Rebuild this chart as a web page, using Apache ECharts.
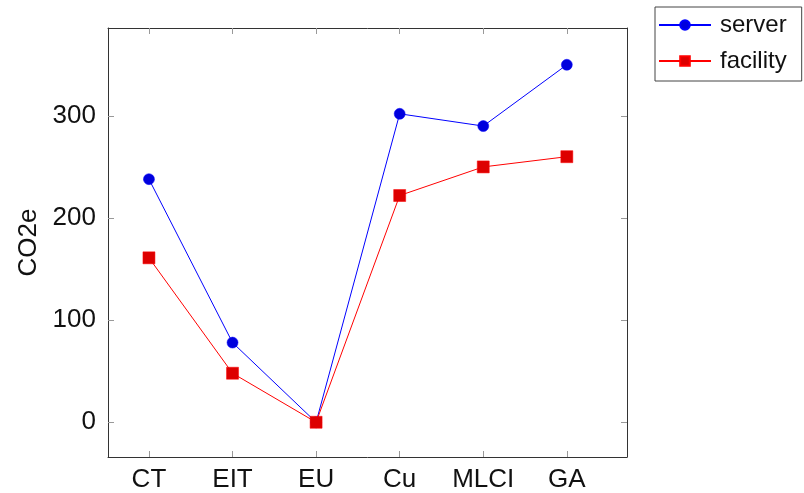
<!DOCTYPE html>
<html>
<head>
<meta charset="utf-8">
<script src="https://cdn.jsdelivr.net/npm/echarts@6/dist/echarts.min.js"></script>
<style>
  html, body { margin: 0; padding: 0; background: #fff; }
  #chart { width: 804px; height: 493px; }
</style>
</head>
<body>
<div id="chart"></div>
<script>
var categories = ["CT", "EIT", "EU", "Cu", "MLCI", "GA"];
var serverValues = [238, 78, 0, 302, 290, 350];
var facilityValues = [161, 48, 0, 222, 250, 260];
var yTicks = [0, 100, 200, 300];

var font = "Liberation Sans";
var myChart = echarts.init(document.getElementById("chart"));

function pairs(vals) {
  return vals.map(function (v, i) { return [i, v]; });
}
var xTickVals = categories.map(function (c, i) { return i; });

// axis pieces shared by the mirrored frame axes
var frameLine = { show: true, onZero: false, lineStyle: { color: "#333", width: 1 } };
var xTick = { show: true, inside: true, length: 6, customValues: xTickVals, lineStyle: { color: "#999" } };
var yTick = { show: true, inside: true, length: 6, customValues: yTicks, lineStyle: { color: "#999" } };

var option = {
  animation: false,
  textStyle: { fontFamily: font },
  grid: { left: 108, right: 177, top: 28, bottom: 34 },
  legend: {
    orient: "vertical",
    left: 655,
    top: 7,
    padding: [6, 15, 8, 3],
    itemGap: 12,
    itemWidth: 52,
    itemHeight: 12,
    borderColor: "#444",
    borderWidth: 1,
    textStyle: { fontSize: 24, color: "#111", fontFamily: font, padding: [0, 0, 0, 4] },
    data: ["server", "facility"]
  },
  xAxis: [
    {
      type: "value",
      min: -0.49,
      max: 5.72,
      axisLine: frameLine,
      splitLine: { show: false },
      axisTick: xTick,
      axisLabel: {
        customValues: xTickVals,
        fontSize: 26, color: "#111", margin: 10,
        formatter: function (v) { return categories[Math.round(v)]; }
      }
    },
    {
      type: "value",
      position: "top",
      min: -0.49,
      max: 5.72,
      axisLine: frameLine,
      splitLine: { show: false },
      axisTick: xTick,
      axisLabel: { show: false }
    }
  ],
  yAxis: [
    {
      type: "value",
      min: -34,
      max: 386,
      name: "CO2e",
      nameLocation: "middle",
      nameGap: 66,
      nameRotate: 90,
      nameTextStyle: { fontSize: 26, color: "#111" },
      axisLine: frameLine,
      splitLine: { show: false },
      axisTick: yTick,
      axisLabel: { customValues: yTicks, fontSize: 26, color: "#111", margin: 12 }
    },
    {
      type: "value",
      position: "right",
      min: -34,
      max: 386,
      axisLine: frameLine,
      splitLine: { show: false },
      axisTick: yTick,
      axisLabel: { show: false }
    }
  ],
  series: [
    {
      name: "server",
      type: "line",
      data: pairs(serverValues),
      symbol: "circle",
      symbolSize: 11,
      lineStyle: { color: "#0000ff", width: 1 },
      itemStyle: { color: "#0000dd", borderColor: "#0000ff", borderWidth: 0.5 }
    },
    {
      name: "facility",
      type: "line",
      data: pairs(facilityValues),
      symbol: "rect",
      symbolSize: 12,
      lineStyle: { color: "#ff0000", width: 1 },
      itemStyle: { color: "#dd0000", borderColor: "#ff0000", borderWidth: 0.5 }
    }
  ]
};

myChart.setOption(option);
</script>
</body>
</html>
